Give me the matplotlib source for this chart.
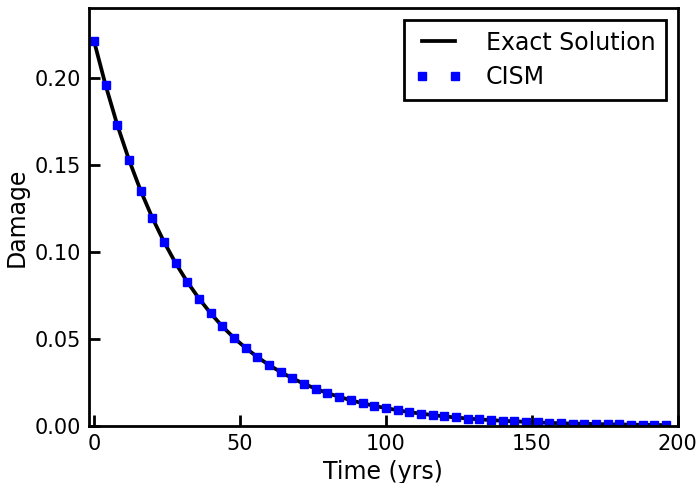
import matplotlib.pyplot as plt

# Tempo (anos) e dano
tempo = [0, 4, 8, 12, 16, 20, 24, 28, 32, 36, 40, 44, 48, 52, 56, 60, 64, 68, 72, 76,
         80, 84, 88, 92, 96, 100, 104, 108, 112, 116, 120, 124, 128, 132, 136, 140,
         144, 148, 152, 156, 160, 164, 168, 172, 176, 180, 184, 188, 192, 196]
dano_exato = [0.2213, 0.1957, 0.1729, 0.1529, 0.1352, 0.1196, 0.1058, 0.0935, 0.0827,
              0.0732, 0.0647, 0.0572, 0.0506, 0.0448, 0.0396, 0.0350, 0.0310, 0.0274,
              0.0242, 0.0214, 0.0189, 0.0168, 0.0148, 0.0131, 0.0116, 0.0103, 0.0091,
              0.0080, 0.0071, 0.0063, 0.0055, 0.0049, 0.0043, 0.0038, 0.0034, 0.0030,
              0.0027, 0.0024, 0.0021, 0.0018, 0.0016, 0.0014, 0.0013, 0.0011, 0.0010,
              0.0009, 0.0008, 0.0007, 0.0006, 0.0005]
dano_cism = dano_exato[:]  # CISM coincide com a solucao exata no grafico

plt.rcParams['font.family'] = 'DejaVu Sans'

fig = plt.figure(figsize=(6.98, 4.83), dpi=100)
ax = fig.add_axes([0.1275, 0.118, 0.8435, 0.865])

ax.plot(tempo, dano_exato, color="black", linewidth=2.7, label="Exact Solution")
ax.plot(tempo, dano_cism, linestyle="none", marker="s", markersize=6.3,
        color="blue", markeredgecolor="blue", label="CISM")

ax.set_xlim(-1.7, 200)
ax.set_ylim(0, 0.24)
ax.set_xticks([0, 50, 100, 150, 200])
ax.set_yticks([0.00, 0.05, 0.10, 0.15, 0.20])
ax.set_yticklabels(["0.00", "0.05", "0.10", "0.15", "0.20"])
ax.tick_params(direction="in", length=8, width=2, labelsize=15, pad=6,
               top=False, right=False)
for s in ax.spines.values():
    s.set_linewidth(2)

ax.set_xlabel("Time (yrs)", fontsize=17)
ax.set_ylabel("Damage", fontsize=17)

leg = ax.legend(loc="upper right", numpoints=2, fontsize=17, fancybox=False,
                framealpha=1, edgecolor="black", borderaxespad=0.5,
                handlelength=2.0, handletextpad=1.0, labelspacing=0.45,
                borderpad=0.45)
leg.get_frame().set_linewidth(2)

fig.savefig("out.png", dpi=100)
